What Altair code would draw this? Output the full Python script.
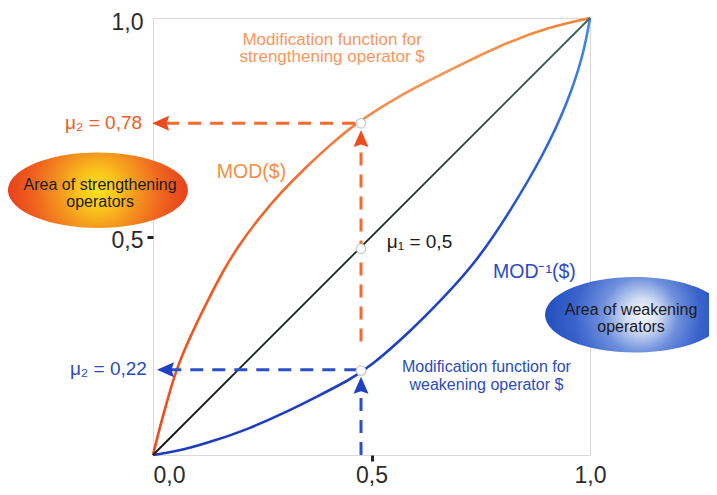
import altair as alt
import pandas as pd

# ---- data ----
orange_x = [0.0, 0.016, 0.035, 0.054, 0.085, 0.122, 0.161, 0.199, 0.245, 0.291, 0.351, 0.405, 0.458, 0.565, 0.68, 0.794, 0.908, 1.0]
orange_y = [0.0, 0.065, 0.133, 0.198, 0.271, 0.347, 0.423, 0.484, 0.545, 0.599, 0.66, 0.709, 0.755, 0.824, 0.881, 0.938, 0.98, 1.0]

blue_x = [0.0, 0.069, 0.145, 0.222, 0.298, 0.374, 0.45, 0.497, 0.588, 0.664, 0.74, 0.817, 0.893, 0.947, 0.985, 1.0]
blue_y = [0.0, 0.011, 0.034, 0.061, 0.095, 0.133, 0.172, 0.202, 0.282, 0.359, 0.442, 0.557, 0.686, 0.801, 0.915, 1.0]

diag_x = [0.0, 1.0]
diag_y = [0.0, 1.0]

sel_x = 0.476
dot_y = [0.759, 0.472, 0.193]

# dashed guides (start x, start y, end x, end y)
orange_gx = [0.03, 0.476]
orange_gy = [0.759, 0.26]
orange_gx2 = [0.476, 0.476]
orange_gy2 = [0.759, 0.725]

blue_gx = [0.035, 0.476]
blue_gy = [0.195, 0.0]
blue_gx2 = [0.476, 0.476]
blue_gy2 = [0.195, 0.16]

# arrow heads
orange_left = (0.021, 0.759)
orange_up = (0.476, 0.721)
blue_left = (0.032, 0.195)
blue_up = (0.476, 0.156)

# ellipses
ell_x = [-0.126, 1.103]
ell_y = [0.606, 0.321]

# texts
c_text = ["Modification function for", "strengthening operator $",
          "Modification function for", "weakening operator $",
          "Area of strengthening", "operators",
          "Area of weakening", "operators"]
c_x = [0.41, 0.41, 0.763, 0.763, -0.121, -0.121, 1.094, 1.094]
c_y = [0.939, 0.899, 0.189, 0.149, 0.606, 0.567, 0.32, 0.282]
c_col = ["#f7965c", "#f7965c", "#2a4cc0", "#2a4cc0", "#1a1a1a", "#1a1a1a", "#1a1a1a", "#1a1a1a"]
c_size = [17, 17, 16, 16, 16, 16, 16, 16]

r_text = ["μ₂ = 0,78", "μ₂ = 0,22"]
r_x = [-0.025, -0.014]
r_y = [0.746, 0.183]
r_col = ["#f05a23", "#2a4cc0"]

l_text = ["μ₁ = 0,5", "MOD($)", "MOD⁻¹($)"]
l_x = [0.535, 0.146, 0.778]
l_y = [0.474, 0.634, 0.405]
l_col = ["#1a1a1a", "#f39040", "#2a4cc0"]
l_size = [19, 19.5, 19.5]

tick_values_x = [0.0, 0.5, 1.0]
tick_values_y = [0.5, 1.0]

# ---- chart ----
FONT = "Liberation Sans, Arial, Helvetica, sans-serif"
xs = alt.Scale(domain=[0, 1], nice=False, zero=False)
ys = alt.Scale(domain=[0, 1], nice=False, zero=False)
label_expr = "replace(format(datum.value, '.1f'), '.', ',')"
xaxis = alt.Axis(title="", values=tick_values_x, labelExpr=label_expr, domain=False, grid=False,
                 tickColor={"condition": {"test": "datum.value == 0.5", "value": "#222222"}, "value": "transparent"},
                 labelAlign={"condition": {"test": "datum.value == 0", "value": "left"}, "value": "center"},
                 tickSize=6, tickWidth=3, labelPadding=3, labelFontSize=23, labelColor="#2b2b2b",
                 labelFont=FONT)
yaxis = alt.Axis(title="", values=tick_values_y, labelExpr=label_expr, domain=False, grid=False,
                 tickColor={"condition": {"test": "datum.value == 0.5", "value": "#222222"}, "value": "transparent"},
                 tickSize=6, tickWidth=3, labelPadding=4, labelOffset=4, labelFontSize=23, labelColor="#2b2b2b",
                 labelFont=FONT)


def X(f="x"):
    return alt.X(f, type="quantitative", scale=xs, axis=xaxis)


def Y(f="y"):
    return alt.Y(f, type="quantitative", scale=ys, axis=yaxis)


def lin(stops, x1=0, y1=1, x2=1, y2=0):
    return {"gradient": "linear", "x1": x1, "y1": y1, "x2": x2, "y2": y2,
            "stops": [{"offset": o, "color": c} for o, c in stops]}


def rad(stops, fx=0.5, fy=0.5):
    return {"gradient": "radial", "x1": fx, "y1": fy, "r1": 0, "x2": 0.5, "y2": 0.5, "r2": 0.5,
            "stops": [{"offset": o, "color": c} for o, c in stops]}


orange_df = pd.DataFrame({"x": orange_x, "y": orange_y})
blue_df = pd.DataFrame({"x": blue_x, "y": blue_y})
diag_df = pd.DataFrame({"x": diag_x, "y": diag_y})

orange_line = alt.Chart(orange_df).mark_line(
    interpolate="basis", strokeWidth=2.6,
    stroke=lin([(0, "#ec4a1c"), (0.45, "#f0682a"), (0.75, "#f69a5c"), (1, "#f2822f")])
).encode(x=X(), y=Y())

blue_line = alt.Chart(blue_df).mark_line(
    interpolate="basis", strokeWidth=2.6,
    stroke=lin([(0, "#1c3cbc"), (0.6, "#1f44c6"), (1, "#3f8ce6")])
).encode(x=X(), y=Y())

diag_line = alt.Chart(diag_df).mark_line(
    strokeWidth=1.8,
    stroke=lin([(0, "#111111"), (0.5, "#182626"), (1, "#3f6262")])
).encode(x=X(), y=Y())

og = pd.DataFrame({"x": orange_gx, "y": orange_gy, "x2": orange_gx2, "y2": orange_gy2})
bg = pd.DataFrame({"x": blue_gx, "y": blue_gy, "x2": blue_gx2, "y2": blue_gy2})
orange_guides = alt.Chart(og).mark_rule(color="#f26b2c", strokeWidth=3, strokeDash=[13, 9]).encode(
    x=X(), y=Y(), x2="x2", y2="y2")
blue_guides = alt.Chart(bg).mark_rule(color="#2a50c8", strokeWidth=3, strokeDash=[13, 9]).encode(
    x=X(), y=Y(), x2="x2", y2="y2")

LEFT = "M-1,0L0.7,-0.75L0.45,0L0.7,0.75Z"
UP = "M0,-1L-0.75,0.7L0,0.45L0.75,0.7Z"

def arrow(pos, shape, color):
    df = pd.DataFrame({"x": [pos[0]], "y": [pos[1]]})
    return alt.Chart(df).mark_point(shape=shape, size=400, filled=True, opacity=1,
                                    fill=color, strokeWidth=0).encode(x=X(), y=Y())

arrows = [arrow(orange_left, LEFT, "#ee4c1e"), arrow(orange_up, UP, "#ee4c1e"),
          arrow(blue_left, LEFT, "#1f40c2"), arrow(blue_up, UP, "#1f40c2")]

dots_df = pd.DataFrame({"x": [sel_x] * 3, "y": dot_y})
dots = alt.Chart(dots_df).mark_point(shape="circle", size=90, filled=True, opacity=1,
                                     fill="white", stroke="#c8c8c8", strokeWidth=1.2).encode(x=X(), y=Y())

ELL = ("M-1,0C-1,-0.232,-0.552,-0.42,0,-0.42C0.552,-0.42,1,-0.232,1,0"
       "C1,0.232,0.552,0.42,0,0.42C-0.552,0.42,-1,0.232,-1,0Z")

ell_o = alt.Chart(pd.DataFrame({"x": [ell_x[0]], "y": [ell_y[0]]})).mark_point(
    shape=ELL, size=180 * 180, filled=True, opacity=1, strokeWidth=0,
    fill=rad([(0, "#fde21c"), (0.22, "#fac41c"), (0.42, "#f5991e"), (0.7, "#f0661e"), (1, "#e8401c")], 0.5, 0.5)
).encode(x=X(), y=Y())

ell_b = alt.Chart(pd.DataFrame({"x": [ell_x[1]], "y": [ell_y[1]]})).mark_point(
    shape=ELL, size=180 * 180, filled=True, opacity=1, strokeWidth=0,
    fill=rad([(0, "#f6f8fd"), (0.18, "#d2ddf4"), (0.42, "#6f90dc"), (0.7, "#3a63cc"), (1, "#2350c0")], 0.55, 0.5)
).encode(x=X(), y=Y())

c_df = pd.DataFrame({"x": c_x, "y": c_y, "t": c_text, "c": c_col, "s": c_size})
r_df = pd.DataFrame({"x": r_x, "y": r_y, "t": r_text, "c": r_col})
l_df = pd.DataFrame({"x": l_x, "y": l_y, "t": l_text, "c": l_col, "s": l_size})

c_txt = alt.Chart(c_df).mark_text(align="center", baseline="alphabetic", font=FONT).encode(
    x=X(), y=Y(), text="t:N", color=alt.Color("c:N", scale=None), size=alt.Size("s:Q", scale=None))
r_txt = alt.Chart(r_df).mark_text(align="right", baseline="alphabetic", font=FONT, fontSize=19).encode(
    x=X(), y=Y(), text="t:N", color=alt.Color("c:N", scale=None))
l_txt = alt.Chart(l_df).mark_text(align="left", baseline="alphabetic", font=FONT).encode(
    x=X(), y=Y(), text="t:N", color=alt.Color("c:N", scale=None), size=alt.Size("s:Q", scale=None))

chart = alt.layer(
    orange_line, blue_line, diag_line, orange_guides, blue_guides, *arrows, dots,
    ell_o, ell_b, c_txt, r_txt, l_txt
).properties(
    width=437, height=437,
    autosize=alt.AutoSizeParams(type="none"),
    padding={"left": 145, "top": 10, "right": 119, "bottom": 32},
    background="white",
).configure_view(stroke="#d9d9d9", strokeWidth=1)

chart.save("out.html", embed_options={"renderer": "svg", "actions": False})
